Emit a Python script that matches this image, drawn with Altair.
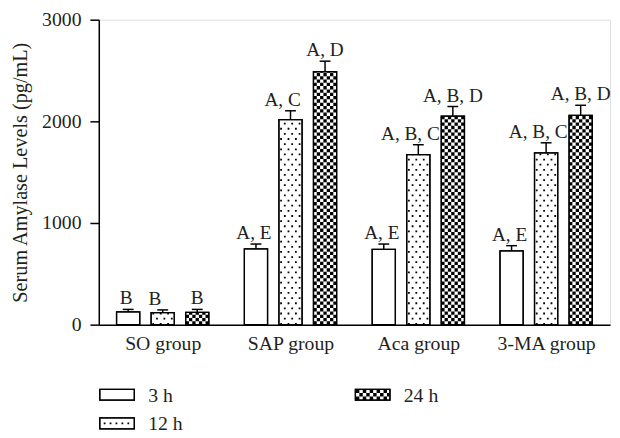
import altair as alt
import pandas as pd

# ---------------- data ----------------
groups = ["SO group", "SAP group", "Aca group", "3-MA group"]
times = ["3 h", "12 h", "24 h"]

mean_3h = [125, 745, 741, 725]
mean_12h = [118, 2016, 1673, 1689]
mean_24h = [121, 2489, 2052, 2058]

sem_3h = [25, 48, 52, 52]
sem_12h = [27, 88, 97, 100]
sem_24h = [29, 103, 94, 100]

lab_3h = ["B", "A, E", "A, E", "A, E"]
lab_12h = ["B", "A, C", "A, B, C", "A, B, C"]
lab_24h = ["B", "A, D", "A, B, D", "A, B, D"]

# ---------------- layout constants ----------------
PLOT_W, PLOT_H = 518, 309
PX = PLOT_W / 4.0            # pixels per group unit
OFF = 35 / PX                # offset between bars in a group
HALF = 11.75 / PX            # half bar width
FONT = "Liberation Serif"
FS = 20
INK = "#231f20"

means = {"3 h": mean_3h, "12 h": mean_12h, "24 h": mean_24h}
sems = {"3 h": sem_3h, "12 h": sem_12h, "24 h": sem_24h}
labs = {"3 h": lab_3h, "12 h": lab_12h, "24 h": lab_24h}

rows = []
for ti, t in enumerate(times):
    for gi, g in enumerate(groups):
        xc = gi + (ti - 1) * OFF
        m = means[t][gi]
        rows.append(dict(group=g, time=t, xc=xc, xl=xc - HALF, xr=xc + HALF,
                         base=0, value=m, err=m + sems[t][gi], label=labs[t][gi]))
df = pd.DataFrame(rows)

# pattern columns (dots for 12 h, checkerboard for 24 h)
pat = []
for r in rows:
    if r["time"] == "12 h":
        for k in range(6):
            pat.append(dict(kind="dot", par=k % 2, x=r["xl"] + (2.2 + k * 3.75) / PX,
                            base=0, value=r["value"]))
    elif r["time"] == "24 h":
        cell = 2 * HALF / 7
        for k in range(7):
            pat.append(dict(kind="chk", par=k % 2, x=r["xl"] + (k + 0.5) * cell,
                            base=0, value=r["value"]))
pdf = pd.DataFrame(pat)

xs = alt.Scale(domain=[-0.5, 3.5], nice=False, zero=False)
ys = alt.Scale(domain=[0, 3000], nice=False)

label_expr = "[" + ",".join("'%s'" % g for g in groups) + "][round(datum.value)]"

x_axis = alt.Axis(values=[0, 1, 2, 3], labelExpr=label_expr, ticks=False, grid=False,
                  title=None, labelFontSize=FS, labelFont=FONT, labelColor=INK,
                  labelPadding=9, domainColor="black", domainWidth=1.5)
y_axis = alt.Axis(values=[0, 1000, 2000, 3000], format="d", grid=False, tickSize=9,
                  tickWidth=1.5, tickColor="black", domainColor="black", domainWidth=1.5,
                  labelFontSize=FS, labelFont=FONT, labelColor=INK, labelPadding=9,
                  title="Serum Amylase Levels (pg/mL)", titleFont=FONT, titleFontSize=20.5,
                  titleFontWeight="normal", titleColor=INK, titlePadding=11)

base = alt.Chart(df)

bars = base.mark_bar(fill="white", stroke="black", strokeWidth=1.3).encode(
    x=alt.X("xl:Q", scale=xs, axis=x_axis),
    x2="xr:Q",
    y=alt.Y("base:Q", scale=ys, axis=y_axis),
    y2="value:Q",
)

pb = alt.Chart(pdf)
def pat_layer(kind, par, width, dash, offset):
    return pb.transform_filter(
        (alt.datum.kind == kind) & (alt.datum.par == par)
    ).mark_rule(strokeWidth=width, strokeDash=dash, strokeDashOffset=offset,
                strokeCap="butt", color="black").encode(
        x=alt.X("x:Q", scale=xs), y=alt.Y("base:Q", scale=ys), y2="value:Q")

c = 2 * HALF / 7 * PX
dots0 = pat_layer("dot", 0, 1.8, [1.8, 8.6], 0)
dots1 = pat_layer("dot", 1, 1.8, [1.8, 8.6], 5.2)
chk0 = pat_layer("chk", 0, c, [c, c], 0)
chk1 = pat_layer("chk", 1, c, [c, c], c)

outline = base.mark_bar(fill=None, stroke="black", strokeWidth=1.3).encode(
    x=alt.X("xl:Q", scale=xs), x2="xr:Q",
    y=alt.Y("base:Q", scale=ys), y2="value:Q")

stem = base.mark_rule(color="black", strokeWidth=1.5).encode(
    x=alt.X("xc:Q", scale=xs), y=alt.Y("value:Q", scale=ys), y2="err:Q")
cap = base.mark_rule(color="black", strokeWidth=1.5, xOffset=-5.5, x2Offset=5.5).encode(
    x=alt.X("xc:Q", scale=xs), x2="xc:Q", y=alt.Y("err:Q", scale=ys))

def text_layer(cond, dx):
    return base.transform_filter(cond).mark_text(
        font=FONT, fontSize=19.5, color=INK, baseline="alphabetic",
        align="center", dy=-5, dx=dx).encode(
        x=alt.X("xc:Q", scale=xs), y=alt.Y("err:Q", scale=ys), text="label:N")

text_a = text_layer(alt.datum.time == "3 h", -2)
text_b = text_layer(alt.datum.time == "12 h", -8)
text_c = text_layer(alt.datum.time == "24 h", 0)

main = alt.layer(bars, dots0, dots1, chk0, chk1, outline, stem, cap, text_a, text_b, text_c)

# ---------------- legend ----------------
leg_col = [0, 0, 1]
leg_row = [0, 1, 0]
ldf = pd.DataFrame(dict(time=times, col=leg_col, row=leg_row))
lx = alt.Scale(domain=[0, 1], range=[1, 260])
ly = alt.Scale(domain=[0, 1], range=[380, 409])
lb = alt.Chart(ldf)
enc = dict(x=alt.X("col:Q", scale=lx, axis=None), x2="col:Q",
           y=alt.Y("row:Q", scale=ly, axis=None))

sw = lb.mark_rect(fill="white", stroke="black", strokeWidth=1.3, x2Offset=35,
                  yOffset=-5.5, y2Offset=5.5).encode(
    x=alt.X("col:Q", scale=lx, axis=None), x2="col:Q",
    y=alt.Y("row:Q", scale=ly, axis=None), y2="row:Q")
ldots = lb.transform_filter(alt.datum.time == "12 h").mark_rule(
    color="black", strokeWidth=1.8, strokeDash=[1.8, 4.2], strokeCap="butt",
    xOffset=4, x2Offset=33).encode(**enc)
lc = 11 / 3
lchk = []
for i, (yo, off) in enumerate([(-lc, 0), (0, 3.5), (lc, 0)]):
    lchk.append(lb.transform_filter(alt.datum.time == "24 h").mark_rule(
        color="black", strokeWidth=lc, strokeDash=[3.5, 3.5], strokeDashOffset=off,
        strokeCap="butt", yOffset=yo, xOffset=0.5, x2Offset=34.5).encode(**enc))
lsw_out = lb.mark_rect(fill=None, stroke="black", strokeWidth=1.3, x2Offset=35,
                       yOffset=-5.5, y2Offset=5.5).encode(
    x=alt.X("col:Q", scale=lx, axis=None), x2="col:Q",
    y=alt.Y("row:Q", scale=ly, axis=None), y2="row:Q")
ltext = lb.mark_text(font=FONT, fontSize=FS, color=INK, align="left",
                     baseline="alphabetic", dx=49, dy=7).encode(
    x=alt.X("col:Q", scale=lx, axis=None), y=alt.Y("row:Q", scale=ly, axis=None),
    text="time:N")

legend = alt.layer(sw, ldots, *lchk, lsw_out, ltext)

chart = alt.layer(main, legend).resolve_scale(x="independent", y="independent").properties(
    width=PLOT_W, height=PLOT_H,
    autosize=alt.AutoSizeParams(type="none"),
    padding={"left": 92, "top": 9, "right": 2, "bottom": 112},
).configure_view(stroke=None).configure(background="white")

chart.save("out.html", embed_options={"renderer": "svg", "actions": False})
